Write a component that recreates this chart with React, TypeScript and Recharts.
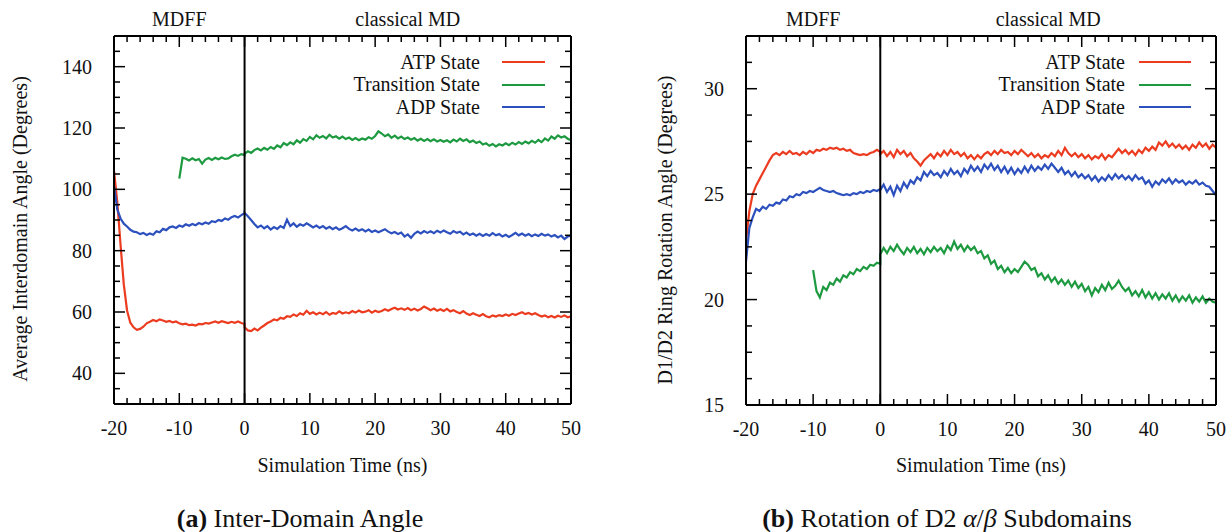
import React from "react";
import { LineChart, Line, XAxis, YAxis, ReferenceLine, Legend } from "recharts";

// time grid (ns): MDFF part and classical MD part, both sampled every 0.5 ns
const mdffTime = Array.from({ length: 41 }, (_, i) => -20 + i * 0.5);
const mdTime = Array.from({ length: 101 }, (_, i) => i * 0.5);

const xTicks = Array.from({ length: 36 }, (_, i) => -20 + i * 2);
const angleTicks = Array.from({ length: 25 }, (_, i) => 30 + i * 5);
const rotationTicks = Array.from({ length: 15 }, (_, i) => 15 + i * 1.25);

// (a) inter-domain angle, degrees
const angleAtpMdff = [
  106, 96, 82, 69, 60.5, 56.5, 55, 54.2, 54.5, 55.2,
  56.3, 56.8, 57.4, 57.0, 57.6, 57.2, 56.8, 57.1, 56.6, 56.9,
  56.3, 56.0, 56.2, 55.7, 55.9, 55.6, 56.1, 56.0, 56.4, 56.2,
  56.6, 56.9, 56.5, 57.0, 56.7, 56.4, 56.8, 56.5, 56.9, 56.4,
  56.1,
];
const angleAtpMd = [
  55.0, 54.0, 53.8, 54.6, 54.0, 54.9, 55.6, 56.4, 56.9, 57.6,
  57.3, 58.1, 57.8, 58.6, 58.4, 59.2, 58.7, 59.6, 59.1, 60.4,
  59.4, 59.9, 59.2, 59.8, 59.3, 60.0, 59.1, 59.7, 59.4, 60.2,
  59.5, 59.9, 59.6, 60.3, 59.8, 60.5, 59.9, 60.1, 60.6, 59.8,
  60.4, 60.0, 60.3, 60.9, 60.4, 61.0, 61.4, 60.8, 61.2, 60.7,
  61.3, 60.6, 61.1, 60.5, 61.0, 61.8, 61.2, 60.6, 61.1, 60.4,
  60.9, 60.3, 61.0, 60.2, 60.6, 60.0, 59.6, 60.3, 59.5, 59.0,
  59.6, 59.1, 58.7, 59.3, 58.6, 58.3, 58.9, 58.5, 59.0, 58.7,
  59.2, 58.8, 59.4, 59.0, 59.5, 59.9, 59.3, 59.7, 59.2, 59.6,
  59.0, 58.5, 58.9, 58.3, 58.7, 58.2, 58.8, 58.4, 58.9, 58.3,
  58.6,
];
const angleTransMdff = [
  103.5, 110.3, 110.0, 109.4, 110.1, 109.5, 109.9, 108.4, 109.7, 110.2,
  109.6, 110.3, 109.8, 110.4, 109.9, 110.1, 110.8, 111.3, 110.9, 111.5,
  111.2,
];
const angleTransMd = [
  111.6, 112.4, 111.9, 112.8, 113.3, 112.7, 113.5, 112.9, 113.8, 113.2,
  114.3, 113.7, 115.1, 114.4, 115.3, 114.7, 116.0, 115.2, 116.4, 115.8,
  117.1, 116.3, 117.6, 116.8, 117.4, 116.6, 117.8, 116.9, 117.3, 116.5,
  117.2, 116.4, 116.9, 116.1, 116.7, 116.0, 116.6, 116.2, 117.0, 116.5,
  117.4, 118.9, 118.2, 117.3, 117.9, 116.8, 117.5, 116.6, 117.2, 116.4,
  116.9, 116.2, 116.7, 115.9, 116.5, 115.8, 116.4, 115.7, 116.3, 115.6,
  116.1, 115.5, 116.0, 115.3, 116.2, 115.6, 116.5, 115.8, 116.3, 115.4,
  115.9, 115.1, 115.6, 114.6, 115.0, 114.2, 114.8, 114.0, 114.7, 114.3,
  115.0, 114.4, 115.2, 114.6, 115.4, 114.8, 115.6, 115.0, 115.8, 115.2,
  116.1, 115.4, 116.6, 115.9, 117.2, 116.5, 117.6, 116.9, 117.3, 116.5,
  116.0,
];
const angleAdpMdff = [
  101, 93.5, 90.5, 88.8, 87.9, 86.8, 86.2, 86.0, 85.4, 85.8,
  85.1, 85.6, 85.2, 86.3, 86.0, 87.1, 86.7, 87.6, 87.9, 87.4,
  88.2, 87.8, 88.6, 88.1, 88.7, 88.3, 89.0, 88.6, 89.2, 88.8,
  89.6, 89.3, 90.0, 89.7, 90.5, 90.1, 90.9, 91.3, 90.8, 91.6,
  92.2,
];
const angleAdpMd = [
  92.3, 91.2, 90.0, 88.7, 87.6, 88.2, 87.3, 88.0, 86.9, 87.7,
  87.1, 88.0, 87.4, 90.1, 88.0, 88.9, 87.8, 88.6, 88.1, 88.9,
  88.3, 87.6, 88.2, 87.4, 88.0, 87.2, 87.8, 87.0, 87.6, 86.8,
  87.3, 88.0, 87.1, 86.6, 87.2, 86.5, 87.0, 86.3, 86.9, 86.1,
  86.6, 86.0, 86.5, 87.0, 86.2, 85.7, 86.1, 85.4, 85.9, 84.6,
  85.3, 84.2, 85.5, 86.2, 85.6, 86.4, 85.8, 86.3, 85.7, 86.5,
  85.9, 86.6, 86.0, 85.5, 86.4, 85.8, 86.2, 85.3, 85.9, 85.1,
  85.6, 84.9, 85.5, 84.8, 85.4, 84.9, 85.7, 85.0, 85.4, 84.6,
  85.2, 84.5, 85.1, 85.8, 85.0, 85.6, 84.9, 85.4, 84.7, 85.3,
  84.8, 85.5, 84.9, 85.3, 84.6, 85.1, 84.3, 84.9, 83.8, 84.6,
  84.9,
];

// (b) D1/D2 ring rotation angle, degrees
const rotAtpMdff = [
  22.8, 24.2, 25.0, 25.4, 25.7, 26.0, 26.3, 26.6, 26.85, 26.95,
  26.85, 27.0, 26.9, 27.05, 26.9, 26.95, 26.85, 27.0, 26.9, 27.05,
  26.95, 27.1, 27.05, 27.15, 27.1, 27.2, 27.15, 27.2, 27.1, 27.15,
  27.05, 27.1, 26.95, 26.9, 26.85, 26.9, 26.85, 26.95, 27.0, 27.1,
  27.0,
];
const rotAtpMd = [
  26.9, 27.05, 26.8, 27.0, 26.75, 27.1, 26.9, 27.05, 26.8, 26.95,
  26.7, 26.55, 26.35, 26.6, 26.75, 26.9, 26.7, 26.95, 26.8, 27.05,
  26.85, 27.1, 26.9, 27.0, 26.8, 26.95, 26.7, 26.85, 26.65, 26.85,
  26.7, 26.9, 27.0, 26.85, 27.05, 26.9, 27.1, 26.95, 27.0, 26.85,
  27.05, 26.9, 27.1, 26.95, 26.8, 26.95, 26.75, 26.9, 26.7, 26.85,
  26.75, 26.95, 26.8, 27.05, 26.85, 27.2, 26.95, 26.8, 26.95, 26.75,
  26.9, 26.7, 26.85, 26.65, 26.8, 26.7, 26.9, 26.65, 26.85, 26.75,
  26.95, 27.15, 26.95, 27.1, 26.9, 27.05, 26.85, 27.1, 26.95, 27.2,
  27.05, 27.25, 27.1, 27.45, 27.3, 27.5, 27.25, 27.4, 27.2, 27.35,
  27.15, 27.3, 27.1, 27.35, 27.2, 27.45, 27.25, 27.4, 27.15, 27.35,
  27.2,
];
const rotTransMdff = [
  21.4, 20.4, 20.1, 20.6, 20.45, 20.8, 20.7, 21.0, 20.85, 21.15,
  21.05, 21.3, 21.2, 21.45, 21.35, 21.55, 21.45, 21.65, 21.6, 21.75,
  21.7,
];
const rotTransMd = [
  22.15, 22.45, 22.2, 22.5, 22.3, 22.6, 22.35, 22.15, 22.45, 22.25,
  22.5, 22.2, 22.4, 22.15, 22.45, 22.25, 22.5, 22.3, 22.45, 22.2,
  22.55, 22.35, 22.75, 22.4, 22.6, 22.3, 22.55, 22.35, 22.5, 22.2,
  22.3, 21.95, 22.1, 21.7, 21.85, 21.45, 21.6, 21.3, 21.5, 21.25,
  21.45, 21.3, 21.55, 21.8, 21.65, 21.4, 21.5, 21.1, 21.25, 20.95,
  21.15, 20.85, 21.05, 20.75, 20.95, 20.7, 20.9, 20.6, 20.85, 20.55,
  20.75, 20.4, 20.6, 20.2, 20.55, 20.35, 20.7, 20.45, 20.8, 20.5,
  20.65, 20.9, 20.6, 20.4, 20.55, 20.2, 20.4, 20.15, 20.45, 20.1,
  20.35, 20.05, 20.3, 20.0, 20.25, 20.05, 20.3, 19.95, 20.2, 19.9,
  20.15, 19.95, 20.2, 19.85, 20.1, 19.9, 20.15, 19.85, 20.05, 19.9,
  19.85,
];
const rotAdpMdff = [
  21.8, 23.4, 23.9, 24.3, 24.2, 24.4, 24.3, 24.5, 24.45, 24.6,
  24.55, 24.75, 24.7, 24.9, 24.85, 25.0, 24.95, 25.1, 25.05, 25.15,
  25.1, 25.2, 25.3, 25.2, 25.15, 25.1, 25.15, 25.05, 25.0, 24.95,
  25.0, 24.95, 25.05, 25.0, 25.1, 25.05, 25.15, 25.1, 25.2, 25.15,
  25.25,
];
const rotAdpMd = [
  25.2, 25.45, 25.1, 25.35, 24.95, 25.4, 25.15, 25.55, 25.3, 25.65,
  25.5, 25.8, 25.65, 26.05, 25.85, 26.1, 25.9, 26.0, 25.8, 26.1,
  25.9, 26.2, 25.95, 26.1, 25.85, 26.2, 26.0, 26.35, 26.1, 26.3,
  26.05, 26.4, 26.2, 26.45, 26.15, 26.35, 26.05, 26.3, 26.0, 26.25,
  25.95, 26.2, 26.0, 26.3, 26.05, 26.35, 26.1, 26.3, 26.15, 26.4,
  26.2, 26.45, 26.25, 26.05, 26.25, 25.95, 26.1, 25.85, 26.05, 25.8,
  25.95, 25.75, 25.9, 25.65, 25.85, 25.6, 25.8, 25.65, 25.9, 25.7,
  25.95, 25.75, 25.9, 25.7, 25.85, 25.65, 25.9, 25.7, 25.8, 25.5,
  25.65, 25.35, 25.6, 25.45, 25.7, 25.55, 25.75, 25.5, 25.7, 25.55,
  25.65, 25.45, 25.6, 25.5, 25.65, 25.45, 25.55, 25.4, 25.35, 25.15,
  24.95,
];

const FONT = '"Liberation Serif", "Times New Roman", serif';
const W = 1227;
const H = 532;

const series = [
  { key: "atp", name: "ATP State", color: "#ec3c20" },
  { key: "trans", name: "Transition State", color: "#1d9a40" },
  { key: "adp", name: "ADP State", color: "#2c50be" },
];

const buildRows = (
  atpMdff: number[], transMdff: number[], adpMdff: number[],
  atpMd: number[], transMd: number[], adpMd: number[]
) => {
  const skip = mdffTime.length - transMdff.length;
  const first = mdffTime.map((t, i) => ({
    t, atp: atpMdff[i], adp: adpMdff[i], trans: i >= skip ? transMdff[i - skip] : null,
  }));
  const second = mdTime.map((t, i) => ({ t, atp: atpMd[i], adp: adpMd[i], trans: transMd[i] }));
  return [...first, ...second];
};

const angleRows = buildRows(angleAtpMdff, angleTransMdff, angleAdpMdff, angleAtpMd, angleTransMd, angleAdpMd);
const rotationRows = buildRows(rotAtpMdff, rotTransMdff, rotAdpMdff, rotAtpMd, rotTransMd, rotAdpMd);

const isMultiple = (v: number, step: number) => Math.abs(v / step - Math.round(v / step)) < 1e-6;

// axis band sizes (recharts skips axes of zero size)
const BOTTOM_H = 30;
const TOP_H = 1;
const LEFT_W = 40;
const RIGHT_W = 1;

const xTick = (side: "bottom" | "top") => (props: any) => {
  const { x, y, payload } = props;
  const v = payload.value;
  const major = isMultiple(v, 10);
  const len = major ? 11 : 6;
  const dir = side === "bottom" ? -1 : 1;
  return (
    <g>
      <line x1={x} y1={y} x2={x} y2={y + dir * len} stroke="#000" strokeWidth={1.5} />
      {side === "bottom" && major && (
        <text x={x} y={y + 31} textAnchor="middle" fontFamily={FONT} fontSize={20} fill="#111">
          {v}
        </text>
      )}
    </g>
  );
};

const yTick = (side: "left" | "right", majorStep: number, labelStep: number) => (props: any) => {
  const { x, y, payload } = props;
  const v = payload.value;
  const major = isMultiple(v, majorStep);
  const len = major ? 11 : 6;
  const dir = side === "left" ? 1 : -1;
  return (
    <g>
      <line x1={x} y1={y} x2={x + dir * len} y2={y} stroke="#000" strokeWidth={1.5} />
      {side === "left" && isMultiple(v, labelStep) && (
        <text x={x - 22} y={y + 7} textAnchor="end" fontFamily={FONT} fontSize={20} fill="#111">
          {v}
        </text>
      )}
    </g>
  );
};

const Txt = ({ x, y, size = 20, rotate = false, children }: any) => (
  <div
    style={{
      position: "absolute", left: x, top: y,
      transform: `translate(-50%, -50%)${rotate ? " rotate(-90deg)" : ""}`,
      fontFamily: FONT, fontSize: size, lineHeight: 1, whiteSpace: "nowrap", color: "#111",
    }}
  >
    {children}
  </div>
);

const legendContent = (gap: number, lineLen: number) => (props: any) => {
  const payload = props.payload || [];
  return (
    <div style={{ fontFamily: FONT, fontSize: 20, color: "#111" }}>
      {series.map((s) => {
        const entry = payload.find((p: any) => p.dataKey === s.key);
        return (
          <div key={s.key} style={{ display: "flex", justifyContent: "flex-end", alignItems: "center", height: 22.5 }}>
            <span>{entry ? entry.value : s.name}</span>
            <span style={{ display: "inline-block", width: lineLen, height: 2, marginLeft: gap, background: s.color }} />
          </div>
        );
      })}
    </div>
  );
};

type PanelProps = {
  rows: any[];
  box: { left: number; right: number; top: number; bottom: number };
  yDomain: [number, number];
  yTicks: number[];
  majorStep: number;
  labelStep: number;
  yTitle: string;
  yTitleX: number;
  caption: React.ReactNode;
  captionX: number;
  legendRight: number;
  legendGap: number;
  legendLine: number;
};

const Panel = ({
  rows, box, yDomain, yTicks, majorStep, labelStep, yTitle, yTitleX,
  caption, captionX, legendRight, legendGap, legendLine,
}: PanelProps) => {
  const xAt = (t: number) => box.left + ((t + 20) / 70) * (box.right - box.left);
  const frame = { stroke: "#000", strokeWidth: 2 };
  const legendWidth = 260;
  return (
    <div style={{ position: "absolute", left: 0, top: 0, width: W, height: H }}>
      <LineChart
        width={W}
        height={H}
        data={rows}
        margin={{
          top: box.top - TOP_H,
          left: box.left - LEFT_W,
          right: W - box.right - RIGHT_W,
          bottom: H - box.bottom - BOTTOM_H,
        }}
      >
        <XAxis dataKey="t" type="number" domain={[-20, 50]} ticks={xTicks} interval={0} height={BOTTOM_H}
          tickSize={0} tickMargin={0} tickLine={false} axisLine={frame} tick={xTick("bottom")} allowDataOverflow />
        <XAxis xAxisId="top" orientation="top" dataKey="t" type="number" domain={[-20, 50]} ticks={xTicks}
          interval={0} height={TOP_H} tickSize={0} tickMargin={0} tickLine={false} axisLine={frame}
          tick={xTick("top")} allowDataOverflow />
        <YAxis type="number" domain={yDomain} ticks={yTicks} interval={0} width={LEFT_W} tickSize={0} tickMargin={0}
          tickLine={false} axisLine={frame} tick={yTick("left", majorStep, labelStep)} allowDataOverflow />
        <YAxis yAxisId="right" orientation="right" type="number" domain={yDomain} ticks={yTicks} interval={0}
          width={RIGHT_W} tickSize={0} tickMargin={0} tickLine={false} axisLine={frame}
          tick={yTick("right", majorStep, labelStep)} allowDataOverflow />
        {series.map((s) => (
          <Line key={s.key} dataKey={s.key} name={s.name} stroke={s.color} strokeWidth={2.2} dot={false}
            type="linear" isAnimationActive={false} />
        ))}
        <ReferenceLine x={0} stroke="#000" strokeWidth={2} />
        <Legend
          layout="vertical"
          align="center"
          verticalAlign="middle"
          width={legendWidth}
          wrapperStyle={{ left: legendRight - legendWidth, top: 51 }}
          content={legendContent(legendGap, legendLine)}
        />
      </LineChart>
      <Txt x={xAt(-10)} y={19}>MDFF</Txt>
      <Txt x={xAt(25)} y={19}>classical MD</Txt>
      <Txt x={(box.left + box.right) / 2} y={465}>Simulation Time (ns)</Txt>
      <Txt x={yTitleX} y={(box.top + box.bottom) / 2 + 9} rotate>{yTitle}</Txt>
      <Txt x={captionX} y={519} size={26}>{caption}</Txt>
    </div>
  );
};

export default function App() {
  return (
    <div style={{ position: "absolute", left: 0, top: 0, width: W, height: H, background: "#fff", overflow: "hidden" }}>
      <Panel
        rows={angleRows}
        box={{ left: 114, right: 571, top: 36, bottom: 404 }}
        yDomain={[30, 150]}
        yTicks={angleTicks}
        majorStep={20}
        labelStep={20}
        yTitle="Average Interdomain Angle (Degrees)"
        yTitleX={20}
        caption={<span><b>(a)</b> Inter-Domain Angle</span>}
        captionX={300}
        legendRight={545}
        legendGap={22}
        legendLine={43}
      />
      <Panel
        rows={rotationRows}
        box={{ left: 746, right: 1216, top: 36, bottom: 405 }}
        yDomain={[15, 32.5]}
        yTicks={rotationTicks}
        majorStep={5}
        labelStep={5}
        yTitle="D1/D2 Ring Rotation Angle (Degrees)"
        yTitleX={665}
        caption={<span><b>(b)</b> Rotation of D2 <i>α</i>/<i>β</i> Subdomains</span>}
        captionX={947}
        legendRight={1191}
        legendGap={14}
        legendLine={52}
      />
    </div>
  );
}
